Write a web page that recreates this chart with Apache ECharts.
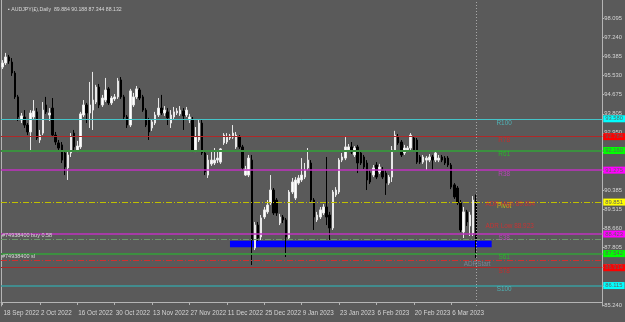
<!DOCTYPE html>
<html>
<head>
<meta charset="utf-8">
<script src="https://cdn.jsdelivr.net/npm/echarts@6/dist/echarts.min.js"></script>
<style>
  html, body { margin: 0; padding: 0; background: #5a5a5a; }
  #chart { width: 625px; height: 322px; }
</style>
</head>
<body>
<div id="chart"></div>
<script>
// AUDJPY daily, one bar per slot, 12 bars between date labels
const dateLabels = ["18 Sep 2022", "2 Oct 2022", "16 Oct 2022", "30 Oct 2022", "13 Nov 2022", "27 Nov 2022",
  "11 Dec 2022", "25 Dec 2022", "9 Jan 2023", "23 Jan 2023", "6 Feb 2023", "20 Feb 2023", "6 Mar 2023"];

const opens = [95.90, 96.08, 96.35, 96.12, 95.63, 94.56, 93.53, 93.66, 93.30, 92.99,
  93.66, 93.89, 92.63, 92.94, 94.20, 93.75, 94.06, 92.85, 92.50, 92.41,
  92.05, 91.38, 92.05, 92.94, 92.18, 92.32, 93.75, 94.20, 93.84, 93.97,
  94.33, 95.00, 94.20, 94.42, 94.92, 94.29, 94.47, 94.56, 95.32, 94.56,
  93.66, 93.30, 94.20, 94.56, 94.87, 94.56, 93.97, 93.53, 93.17, 93.39,
  93.75, 94.06, 93.84, 93.89, 93.39, 93.66, 93.84, 93.80, 93.93, 93.75,
  93.53, 93.53, 92.18, 92.63, 93.39, 92.05, 91.06, 91.56, 91.60, 91.73,
  91.64, 92.50, 92.54, 92.72, 92.76, 92.32, 92.76, 92.32, 91.06, 91.06,
  91.73, 87.79, 88.82, 88.29, 89.18, 89.41, 89.81, 90.39, 89.94, 88.91,
  89.18, 89.05, 88.24, 90.30, 90.03, 90.70, 90.84, 90.97, 91.38, 91.60,
  89.94, 89.05, 89.18, 89.36, 89.63, 89.27, 88.69, 90.17, 90.30, 91.73,
  91.82, 92.18, 92.32, 91.96, 92.32, 92.05, 91.87, 91.60, 91.15, 91.06,
  91.51, 91.20, 91.29, 91.15, 90.70, 90.97, 92.18, 92.76, 92.54, 92.05,
  92.18, 92.27, 92.72, 92.63, 91.87, 91.64, 91.73, 91.73, 91.87, 91.73,
  91.73, 91.87, 91.82, 91.82, 91.51, 90.62, 90.48, 89.81, 88.51, 89.41,
  88.78, 88.47, 89.884];
const closes = [96.08, 96.35, 96.17, 95.63, 94.56, 93.66, 93.71, 93.30, 92.99, 93.84,
  93.93, 92.72, 92.85, 93.97, 93.89, 93.84, 92.85, 92.54, 92.27, 91.73,
  91.42, 91.96, 92.76, 92.32, 92.36, 93.80, 94.20, 93.84, 94.20, 94.42,
  95.00, 94.20, 94.51, 94.87, 94.29, 94.51, 94.56, 95.27, 94.56, 93.66,
  93.30, 94.83, 94.56, 94.92, 94.51, 93.97, 93.30, 92.99, 93.44, 93.75,
  94.06, 93.84, 93.97, 93.62, 93.75, 93.89, 93.93, 93.97, 93.71, 93.97,
  93.66, 92.18, 92.76, 93.39, 92.05, 91.20, 91.73, 91.73, 91.73, 91.82,
  92.23, 92.85, 92.76, 92.81, 92.94, 92.85, 92.32, 91.38, 91.33, 91.82,
  88.15, 88.82, 88.24, 89.14, 89.50, 89.72, 90.39, 89.36, 89.36, 89.18,
  89.05, 88.29, 90.30, 90.75, 90.84, 90.93, 91.06, 91.29, 91.73, 89.94,
  89.18, 89.27, 89.50, 89.63, 89.18, 88.69, 90.30, 90.39, 91.73, 91.87,
  92.32, 92.32, 92.09, 92.27, 91.60, 91.60, 91.42, 90.84, 90.75, 91.38,
  90.97, 91.42, 90.97, 90.70, 90.97, 92.18, 92.85, 92.50, 91.96, 92.27,
  92.27, 92.85, 92.18, 91.64, 91.64, 91.87, 91.82, 91.87, 91.73, 92.05,
  91.82, 91.73, 91.60, 91.51, 90.52, 90.08, 89.81, 88.60, 89.41, 88.96,
  89.27, 89.94, 88.132];
const highs = [96.21, 96.53, 96.44, 96.30, 95.72, 94.65, 93.84, 93.97, 93.39, 93.97,
  94.42, 94.06, 93.08, 94.33, 94.56, 94.06, 94.51, 92.99, 92.63, 92.54,
  92.18, 92.09, 92.94, 93.08, 92.59, 93.89, 94.42, 94.29, 95.23, 95.68,
  95.10, 95.14, 94.65, 95.41, 95.00, 94.60, 94.69, 95.41, 95.45, 94.65,
  93.75, 94.92, 94.74, 95.05, 94.96, 94.65, 94.06, 93.62, 93.57, 93.89,
  94.51, 94.65, 94.15, 94.06, 93.97, 94.11, 94.06, 94.15, 94.06, 94.11,
  93.80, 93.66, 93.21, 93.53, 93.53, 92.18, 91.96, 92.09, 92.27, 92.09,
  92.27, 92.94, 92.94, 92.90, 93.30, 92.99, 92.85, 92.41, 91.47, 91.96,
  91.96, 88.96, 88.96, 89.27, 89.63, 89.94, 91.06, 90.48, 90.03, 89.32,
  89.27, 89.14, 90.39, 90.93, 90.97, 91.06, 91.82, 91.60, 92.27, 91.73,
  90.03, 89.41, 89.63, 89.76, 91.87, 89.41, 90.39, 90.52, 91.82, 92.05,
  92.76, 92.45, 92.54, 92.36, 92.41, 92.18, 91.96, 91.73, 91.29, 91.51,
  91.64, 91.56, 91.42, 91.29, 91.06, 92.36, 93.04, 92.90, 92.63, 92.41,
  92.36, 92.94, 92.81, 92.72, 91.96, 91.96, 91.91, 92.00, 91.96, 92.18,
  91.96, 91.96, 91.91, 91.91, 91.60, 90.70, 90.57, 89.94, 89.63, 89.50,
  89.41, 90.12, 90.188];
const lows = [95.81, 95.99, 96.04, 95.50, 94.47, 93.48, 93.39, 93.17, 92.85, 92.09,
  93.57, 92.63, 92.50, 92.85, 93.80, 93.48, 92.76, 92.41, 92.18, 91.60,
  91.06, 90.84, 91.87, 92.18, 92.09, 92.23, 93.66, 93.39, 93.17, 93.08,
  94.24, 94.06, 94.11, 94.33, 94.20, 94.20, 94.38, 94.47, 94.47, 93.57,
  93.17, 93.21, 94.11, 94.47, 94.42, 93.89, 93.21, 92.63, 93.04, 93.30,
  93.66, 93.75, 93.71, 93.30, 93.17, 93.57, 93.75, 93.71, 93.08, 93.66,
  93.39, 92.09, 92.09, 92.54, 91.96, 91.06, 90.93, 91.47, 91.51, 91.60,
  91.56, 92.41, 92.45, 92.63, 92.68, 92.23, 92.23, 91.29, 91.02, 90.97,
  87.03, 87.70, 88.11, 88.15, 89.09, 89.32, 89.72, 89.27, 89.23, 88.82,
  88.91, 87.39, 88.15, 90.21, 89.94, 90.62, 90.75, 90.88, 91.29, 89.81,
  88.60, 88.96, 89.09, 89.27, 88.82, 88.15, 88.60, 90.08, 90.21, 91.64,
  91.73, 92.09, 92.00, 91.87, 91.15, 91.51, 91.33, 90.39, 90.66, 90.97,
  90.88, 91.11, 90.88, 90.17, 90.62, 90.75, 92.09, 92.41, 91.87, 91.96,
  92.09, 92.18, 92.09, 91.56, 91.56, 91.56, 91.29, 91.64, 91.29, 91.64,
  91.64, 91.64, 91.51, 91.42, 90.43, 89.99, 89.72, 88.51, 88.24, 88.78,
  88.33, 88.33, 87.344];

// right price scale
const yTicks = [98.095, 97.240, 96.385, 95.530, 94.675, 93.805, 92.950, 92.095,
  91.240, 90.385, 89.515, 88.660, 87.805, 86.950, 86.095, 85.240];

// fibo pivot levels
const levelNames = ["R100", "R78", "R61", "R38", "Pivot", "S38", "S61", "S78", "S100"];
const levelValues = [93.580, 92.784, 92.160, 91.275, 89.851, 88.423, 87.542, 86.914, 86.115];

// order lines, bid, zone
const bidPrice = 88.132;
const buyPrice = 88.180;
const slPrice = 87.242;
const zoneTop = 88.12;
const zoneBottom = 87.83;
const adrHigh = 89.894;
const adrLow = 88.923;
const adrStart = 87.22;

const slotCount = 193;
const cats = [];
for (let i = 0; i < slotCount; i++) cats.push(String(i));

const candles = opens.map((o, i) => [o, closes[i], lows[i], highs[i]]);
const lastIdx = opens.length - 1;

const styles = {
  R100: { line: "#45c3c8", width: 1, box: "#00ffff", text: "#4cc8cc" },
  R78: { line: "#b02828", width: 1, box: "#ff0000", text: "#e02020" },
  R61: { line: "#3c9040", width: 2, box: "#00ff00", text: "#22c822" },
  R38: { line: "#c032c0", width: 1.5, box: "#ff00ff", text: "#d040d0" },
  Pivot: { line: "#c0c000", width: 1, type: [6, 2, 1, 2], box: "#ffff00", text: "#d8d800" },
  S38: { line: "#c032c0", width: 1.5, box: "#ff00ff", text: "#d040d0" },
  S61: { line: "#3c9040", width: 2, box: "#00ff00", text: "#22c822" },
  S78: { line: "#b02828", width: 1, box: "#ff0000", text: "#e02020" },
  S100: { line: "#3a9ea0", width: 1.5, box: "#00ffff", text: "#4cc8cc" },
};

const boxLabel = (bg, v) => ({
  show: true,
  position: "end",
  distance: 1,
  formatter: v.toFixed(3),
  backgroundColor: bg,
  color: "#606060",
  fontSize: 5.8,
  fontFamily: "Liberation Sans",
  padding: [1, 2, 0, 2],
});

const markLines = levelNames.map((n, i) => ({
  yAxis: levelValues[i],
  lineStyle: { color: styles[n].line, width: styles[n].width, type: styles[n].type || "solid" },
  label: boxLabel(styles[n].box, levelValues[i]),
}));
markLines.push({
  yAxis: buyPrice,
  lineStyle: { color: "#6c9a6c", width: 1, type: [6, 2, 1, 2] },
  label: { show: true, position: "insideStartTop", distance: 1, formatter: "#74938400 buy 0.58",
    color: "#d8d8d8", fontSize: 5.5, fontFamily: "Liberation Sans" },
});
markLines.push({
  yAxis: slPrice,
  lineStyle: { color: "#d03030", width: 1, type: [6, 2, 1, 2] },
  label: { show: true, position: "insideStartTop", distance: 1, formatter: "#74938400 sl",
    color: "#d8d8d8", fontSize: 5.5, fontFamily: "Liberation Sans" },
});
markLines.push({
  yAxis: bidPrice,
  lineStyle: { opacity: 0 },
  label: boxLabel("#ffffff", bidPrice),
});
markLines.push({
  xAxis: lastIdx,
  lineStyle: { color: "#a8a8a8", width: 1, type: [1, 2] },
  label: { show: false },
});

// text objects on the chart
const textCol = 161;
const texts = levelNames.map((n, i) => ({
  value: [textCol, levelValues[i]],
  label: { formatter: n, color: styles[n].text, align: "center", offset: [0, 1] },
}));
texts.push({ value: [155, adrHigh], label: { formatter: "ADR High " + adrHigh.toFixed(3), color: "#e02a2a", align: "left" } });
texts.push({ value: [155, adrLow], label: { formatter: "ADR Low " + adrLow.toFixed(3), color: "#e02a2a", align: "left" } });
texts.push({ value: [148, adrStart], label: { formatter: "ADRStart", color: "#8090a4", align: "left" } });

const axisCol = "#b4b4b4";
const labelCol = "#d4d4d4";
const yMin = 85.195;
const yMax = 98.901;

const chart = echarts.init(document.getElementById("chart"), null, { renderer: "canvas" });
chart.setOption({
  animation: false,
  backgroundColor: "#5a5a5a",
  title: {
    text: "\u25aa AUDJPY(\u00a3),Daily  89.884 90.188 87.344 88.132",
    left: 3,
    top: 2,
    textStyle: { color: "#d8d8d8", fontSize: 5.2, fontWeight: "normal", fontFamily: "Liberation Sans" },
  },
  grid: { left: 1, right: 22, top: 0, bottom: 16 },
  xAxis: {
    type: "category",
    data: cats,
    boundaryGap: true,
    offset: -4,
    axisLine: { show: true, lineStyle: { color: axisCol } },
    axisTick: {
      show: true,
      alignWithLabel: true,
      length: 3,
      interval: (i) => i % 12 === 0 && i / 12 < dateLabels.length,
      lineStyle: { color: axisCol },
    },
    axisLabel: {
      interval: (i) => i % 12 === 0 && i / 12 < dateLabels.length,
      formatter: (v, i) => dateLabels[i / 12] || "",
      align: "left",
      padding: [0, 0, 0, 1],
      margin: 8,
      color: labelCol,
      fontSize: 6.3,
      fontFamily: "Liberation Sans",
    },
    splitLine: { show: false },
  },
  yAxis: [
    {
      type: "value",
      position: "right",
      min: yMin,
      max: yMax,
      splitLine: { show: false },
      axisLine: { show: true, lineStyle: { color: axisCol } },
      axisTick: { show: true, length: 2, customValues: yTicks, lineStyle: { color: axisCol } },
      axisLabel: {
        customValues: yTicks,
        formatter: (v) => v.toFixed(3),
        margin: 2,
        color: labelCol,
        fontSize: 5.8,
        fontFamily: "Liberation Sans",
      },
    },
    {
      type: "value",
      position: "left",
      min: yMin,
      max: yMax,
      splitLine: { show: false },
      axisLine: { show: true, lineStyle: { color: axisCol } },
      axisTick: { show: false },
      axisLabel: { show: false },
    },
  ],
  series: [
    {
      type: "candlestick",
      data: candles,
      barWidth: 2,
      itemStyle: {
        color: "#ffffff",
        color0: "#000000",
        borderColor: "#e8e8e8",
        borderColor0: "#000000",
        borderWidth: 1,
      },
      markArea: {
        silent: true,
        itemStyle: { color: "#0000ff" },
        data: [[{ xAxis: 73, yAxis: zoneTop }, { xAxis: 157, yAxis: zoneBottom }]],
      },
      markLine: {
        silent: true,
        symbol: "none",
        animation: false,
        data: markLines,
      },
    },
    {
      type: "scatter",
      symbolSize: 0,
      silent: true,
      z: 5,
      label: {
        show: true,
        position: [0, 0],
        verticalAlign: "top",
        fontSize: 6.4,
        fontFamily: "Liberation Sans",
      },
      data: texts,
    },
  ],
});
</script>
</body>
</html>
